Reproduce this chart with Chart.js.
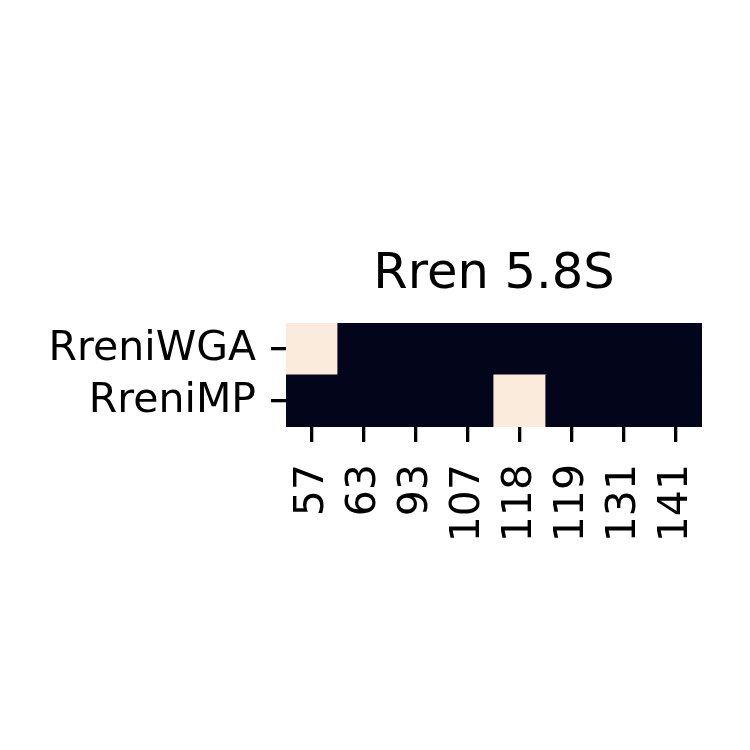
<!DOCTYPE html>
<html><head><meta charset="utf-8">
<script src="https://cdn.jsdelivr.net/npm/chart.js@4.4.0/dist/chart.umd.min.js"></script>
<style>html,body{margin:0;padding:0;background:#fff;} #wrap{width:750px;height:750px;}</style>
</head><body><div id="wrap"><canvas id="c" width="750" height="750"></canvas></div>
<script>
const titleText = 'Rren 5.8S';
const positions = ['57','63','93','107','118','119','131','141'];
const rowNames = ['RreniWGA','RreniMP'];
const rreniWGA = [1,0,0,0,0,0,0,0];
const rreniMP  = [0,0,0,0,1,0,0,0];
const lowColor = '#03051A', highColor = '#FAEBDD';
const colorOf = v => v >= 0.5 ? highColor : lowColor;

const FONT = 'DejaVu Sans';
const tickW = 3.3, tickLen = 15;

new Chart(document.getElementById('c'), {
  type: 'bar',
  data: {
    labels: positions,
    datasets: [
      { label: rowNames[1], data: rreniMP.map(() => 1), backgroundColor: rreniMP.map(colorOf), borderWidth: 0, inflateAmount: 0.6, barPercentage: 1, categoryPercentage: 1 },
      { label: rowNames[0], data: rreniWGA.map(() => 1), backgroundColor: rreniWGA.map(colorOf), borderWidth: 0, inflateAmount: 0.6, barPercentage: 1, categoryPercentage: 1 }
    ]
  },
  options: {
    responsive: false,
    animation: false,
    devicePixelRatio: 1,
    layout: { padding: { top: 245.3, left: 0, right: 48, bottom: 0 } },
    plugins: {
      legend: { display: false },
      tooltip: { enabled: false },
      title: {
        display: true, text: titleText, color: '#000', fullSize: false,
        font: { family: FONT, size: 49.5, weight: 'normal', lineHeight: 1.2 },
        padding: { top: 0, bottom: 18.3 }
      }
    },
    scales: {
      x: {
        type: 'category', stacked: true, offset: true,
        border: { display: false },
        grid: { offset: false, drawOnChartArea: false, drawTicks: true, tickLength: tickLen, color: '#000', lineWidth: tickW },
        ticks: { color: '#000', font: { family: FONT, size: 41 }, minRotation: 90, maxRotation: 90, autoSkip: false, padding: 22 },
        afterFit: s => { s.height = 323; s.paddingLeft = 0; s.paddingRight = 0; }
      },
      y: {
        type: 'linear', stacked: true, min: 0, max: 2,
        border: { display: false },
        grid: { drawOnChartArea: false, drawTicks: true, tickLength: tickLen, color: '#000', lineWidth: tickW },
        afterBuildTicks: s => { s.ticks = [{ value: 0.5 }, { value: 1.5 }]; },
        ticks: { color: '#000', font: { family: FONT, size: 41 }, padding: 15,
          callback: v => v > 1 ? rowNames[0] : rowNames[1] },
        afterFit: s => { s.width = 286; s.paddingTop = 0; s.paddingBottom = 0; }
      }
    }
  }
});
</script>
</body></html>
